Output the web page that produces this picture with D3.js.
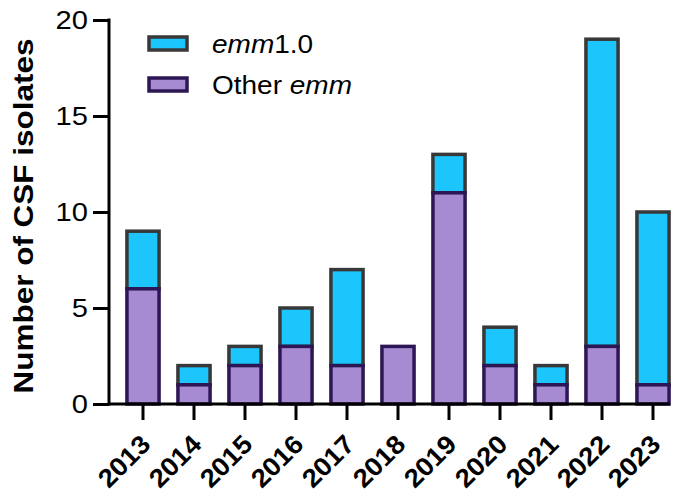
<!DOCTYPE html>
<html>
<head>
<meta charset="utf-8">
<script src="https://cdn.jsdelivr.net/npm/d3@7"></script>
<style>
  body { margin: 0; background: #fff; }
  text { font-family: "Liberation Sans", Arial, sans-serif; }
</style>
</head>
<body>
<script>
// data
const years = ['2013', '2014', '2015', '2016', '2017', '2018', '2019', '2020', '2021', '2022', '2023'];
const otherEmm = [6, 1, 2, 3, 2, 3, 11, 2, 1, 3, 1];
const emm1 = [3, 1, 1, 2, 5, 0, 2, 2, 1, 16, 9];
const yTicks = [0, 5, 10, 15, 20];

const width = 683, height = 497;
const cyan = '#1cc6fd', purple = '#a68bd3';
const cyanStroke = '#383838', purpleStroke = '#2c1654';
const font = '"Liberation Sans", Arial, sans-serif';
const stretch = 1.12; // the original lettering runs a bit wider than Arial

const svg = d3.select('body').append('svg')
    .attr('width', width)
    .attr('height', height);

const y = d3.scaleLinear().domain([0, 20]).range([404, 20]);
const x = d3.scaleBand().domain(years).range([117.5, 678.5]).paddingInner(0.37).paddingOuter(0.185);

const rows = years.map((yr, i) => ({ year: yr, other: otherEmm[i], emm1: emm1[i] }));

// bars: upper part (emm1.0) first so the purple outline sits on top
const g = svg.append('g');
g.selectAll('rect.emm1')
    .data(rows.filter(d => d.emm1 > 0))
    .enter().append('rect')
    .attr('class', 'emm1')
    .attr('x', d => x(d.year))
    .attr('width', x.bandwidth())
    .attr('y', d => y(d.other + d.emm1))
    .attr('height', d => y(d.other) - y(d.other + d.emm1))
    .attr('fill', cyan)
    .attr('stroke', cyanStroke)
    .attr('stroke-width', 3.5);

g.selectAll('rect.other')
    .data(rows)
    .enter().append('rect')
    .attr('class', 'other')
    .attr('x', d => x(d.year))
    .attr('width', x.bandwidth())
    .attr('y', d => y(d.other))
    .attr('height', d => y(0) - y(d.other))
    .attr('fill', purple)
    .attr('stroke', purpleStroke)
    .attr('stroke-width', 3.5);

// y axis
const yAxis = svg.append('g')
    .attr('transform', 'translate(109,0)')
    .call(d3.axisLeft(y).tickValues(yTicks).tickSize(16));
yAxis.select('.domain').attr('stroke-width', 3).attr('d', `M0,${y(20) - 1.5}V${y(0) + 1.5}`);
yAxis.selectAll('.tick line').attr('stroke-width', 3);
yAxis.selectAll('.tick text')
    .attr('font-size', 26)
    .attr('fill', '#000')
    .attr('font-family', font)
    .attr('x', -21 / stretch)
    .attr('transform', `scale(${stretch},1)`);

// x axis
const xAxis = svg.append('g')
    .attr('transform', `translate(0,${y(0)})`)
    .call(d3.axisBottom(x).tickSize(16));
xAxis.select('.domain').attr('stroke-width', 3).attr('d', 'M109,0H670');
xAxis.selectAll('.tick line').attr('stroke-width', 3);
xAxis.selectAll('.tick text')
    .attr('font-size', 26)
    .attr('font-weight', 'bold')
    .attr('fill', '#000')
    .attr('font-family', font)
    .attr('text-anchor', 'end')
    .attr('x', 0).attr('y', 0).attr('dy', 0)
    .attr('transform', `translate(9,42) rotate(-45) scale(1.06,1)`);

// y title
svg.append('text')
    .attr('transform', `translate(33,${(y(0) + y(20)) / 2 + 4}) rotate(-90)`)
    .attr('text-anchor', 'middle')
    .attr('font-size', 28)
    .attr('font-weight', 'bold')
    .attr('textLength', 355)
    .attr('lengthAdjust', 'spacingAndGlyphs')
    .text('Number of CSF isolates');

// legend
const legend = [
    { label: 'emm', rest: '1.0', fill: cyan, stroke: cyanStroke, italicFirst: true },
    { label: 'Other ', rest: 'emm', fill: purple, stroke: purpleStroke, italicFirst: false }
];
const lg = svg.append('g').selectAll('g')
    .data(legend)
    .enter().append('g')
    .attr('transform', (d, i) => `translate(149,${37 + i * 41})`);
lg.append('rect')
    .attr('width', 38).attr('height', 13)
    .attr('fill', d => d.fill)
    .attr('stroke', d => d.stroke)
    .attr('stroke-width', 3.5);
const lt = lg.append('text')
    .attr('transform', `translate(63,16) scale(${stretch},1)`)
    .attr('font-size', 25);
lt.append('tspan').attr('font-style', d => d.italicFirst ? 'italic' : 'normal').text(d => d.label);
lt.append('tspan').attr('font-style', d => d.italicFirst ? 'normal' : 'italic').text(d => d.rest);
</script>
</body>
</html>
